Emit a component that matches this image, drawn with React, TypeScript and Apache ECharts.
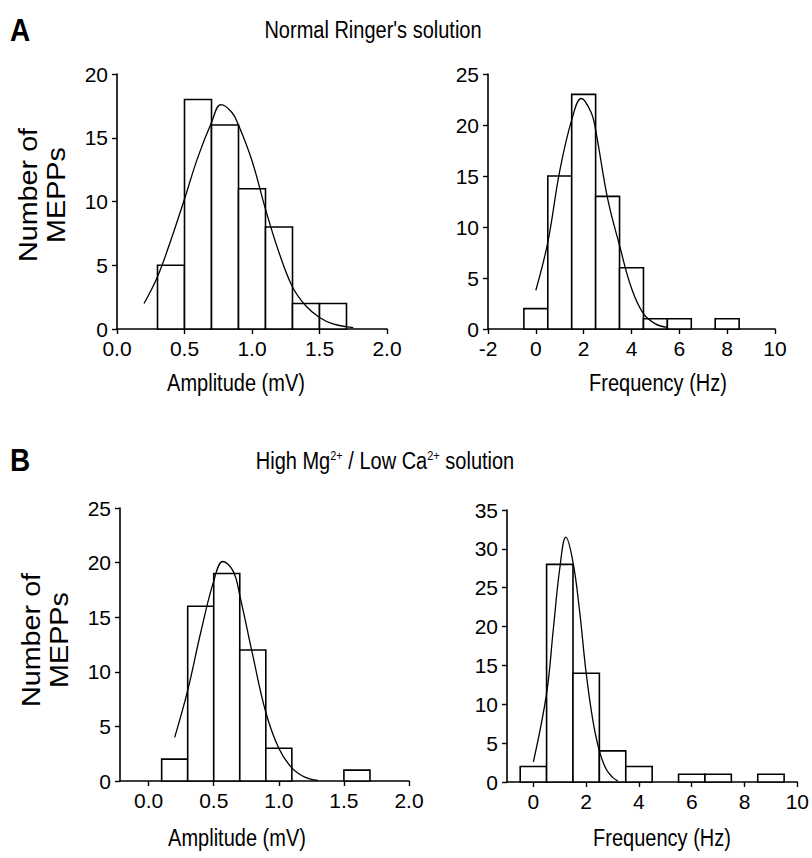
import React, { useEffect, useRef } from "react";
import * as echarts from "echarts";

// ---- Data ----
// Panel A, amplitude histogram (Normal Ringer's)
const ampLoA = [0.3, 0.5, 0.7, 0.9, 1.1, 1.3, 1.5];
const ampHiA = [0.5, 0.7, 0.9, 1.1, 1.3, 1.5, 1.7];
const ampCountA = [5, 18, 16, 11, 8, 2, 2];
const ampFitXA = [0.2, 0.3, 0.4, 0.5, 0.6, 0.7, 0.77, 0.85, 0.9, 1.0, 1.1, 1.2, 1.3, 1.4, 1.5, 1.6, 1.75];
const ampFitYA = [2.0, 4.1, 7.0, 10.2, 13.5, 16.2, 17.6, 17.0, 16.0, 13.2, 9.4, 6.0, 3.3, 1.8, 0.9, 0.4, 0.1];

// Panel A, frequency histogram
const freqLoA = [-0.5, 0.5, 1.5, 2.5, 3.5, 4.5, 5.5, 7.5];
const freqHiA = [0.5, 1.5, 2.5, 3.5, 4.5, 5.5, 6.5, 8.5];
const freqCountA = [2, 15, 23, 13, 6, 1, 1, 1];
const freqFitXA = [0, 0.5, 1.0, 1.5, 1.9, 2.3, 2.5, 3.0, 3.5, 4.0, 4.5, 5.0, 5.5];
const freqFitYA = [3.8, 8.5, 15.5, 20.5, 22.6, 21.3, 19.5, 12.8, 8.2, 4.0, 1.5, 0.5, 0.15];

// Panel B, amplitude histogram (High Mg2+ / Low Ca2+)
const ampLoB = [0.1, 0.3, 0.5, 0.7, 0.9, 1.5];
const ampHiB = [0.3, 0.5, 0.7, 0.9, 1.1, 1.7];
const ampCountB = [2, 16, 19, 12, 3, 1];
const ampFitXB = [0.2, 0.3, 0.4, 0.5, 0.57, 0.65, 0.7, 0.8, 0.9, 1.0, 1.1, 1.2, 1.3];
const ampFitYB = [4.0, 8.3, 13.6, 18.3, 20.1, 19.2, 17.0, 11.5, 6.3, 3.0, 1.2, 0.35, 0.05];

// Panel B, frequency histogram
const freqLoB = [-0.5, 0.5, 1.5, 2.5, 3.5, 5.5, 6.5, 8.5];
const freqHiB = [0.5, 1.5, 2.5, 3.5, 4.5, 6.5, 7.5, 9.5];
const freqCountB = [2, 28, 14, 4, 2, 1, 1, 1];
const freqFitXB = [0, 0.5, 0.75, 1.0, 1.23, 1.5, 1.75, 2.0, 2.25, 2.5, 2.75, 3.0, 3.2];
const freqFitYB = [2.6, 11.4, 19.5, 27.5, 31.5, 28.3, 22.0, 14.0, 8.0, 4.0, 1.7, 0.6, 0.15];

// tick labels
const ampTicks = [0, 0.5, 1.0, 1.5, 2.0];
const freqTicksB = [0, 2, 4, 6, 8, 10];

const FONT = "Liberation Sans, Arial, sans-serif";

function bins(lo: number[], hi: number[], c: number[]) {
  return lo.map((l, i) => [l, hi[i], c[i]]);
}
function pairs(xs: number[], ys: number[]) {
  return xs.map((x, i) => [x, ys[i]]);
}

const histRender = (params: any, api: any) => {
  const x0 = api.value(0);
  const x1 = api.value(1);
  const c = api.value(2);
  const p0 = api.coord([x0, c]);
  const p1 = api.coord([x1, 0]);
  return {
    type: "rect",
    shape: { x: p0[0], y: p0[1], width: p1[0] - p0[0], height: p1[1] - p0[1] },
    style: { fill: "#fff", stroke: "#000", lineWidth: 1.6 },
  };
};

const axisCommon = {
  axisLine: { show: true, onZero: false, lineStyle: { color: "#000", width: 1.6 } },
  axisTick: { show: true, inside: false, length: 5, lineStyle: { color: "#000", width: 1.4 } },
  axisLabel: { color: "#000", fontSize: 21, fontFamily: FONT, margin: 7 },
  splitLine: { show: false },
};

export default function App() {
  const ref = useRef<HTMLDivElement>(null);
  useEffect(() => {
    if (!ref.current) return;
    const chart = echarts.init(ref.current, undefined, { renderer: "svg" });
    const grids = [
      { left: 117, top: 74, width: 270, height: 255 },
      { left: 488, top: 74, width: 287, height: 255 },
      { left: 120, top: 508, width: 289, height: 273 },
      { left: 507, top: 510, width: 291, height: 272 },
    ];
    const xLabel = { ...axisCommon.axisLabel, margin: 9 };
    const yLabel = { ...axisCommon.axisLabel, margin: 9 };
    const xAxes: any[] = [
      {
        ...axisCommon, type: "value", gridIndex: 0, min: 0, max: 2, interval: 0.5,
        axisLabel: { ...xLabel, formatter: (v: number) => v.toFixed(1) },
      },
      { ...axisCommon, type: "value", gridIndex: 1, min: -2, max: 10, interval: 2, axisLabel: xLabel },
      {
        ...axisCommon, type: "value", gridIndex: 2, min: -0.22, max: 2,
        axisTick: { ...axisCommon.axisTick, customValues: ampTicks },
        axisLabel: { ...xLabel, customValues: ampTicks, formatter: (v: number) => v.toFixed(1) },
      },
      {
        ...axisCommon, type: "value", gridIndex: 3, min: -1, max: 10,
        axisTick: { ...axisCommon.axisTick, customValues: freqTicksB },
        axisLabel: { ...xLabel, customValues: freqTicksB },
      },
    ];
    const yAxes: any[] = [
      { ...axisCommon, type: "value", gridIndex: 0, min: 0, max: 20, interval: 5, axisLabel: yLabel },
      { ...axisCommon, type: "value", gridIndex: 1, min: 0, max: 25, interval: 5, axisLabel: yLabel },
      { ...axisCommon, type: "value", gridIndex: 2, min: 0, max: 25, interval: 5, axisLabel: yLabel },
      { ...axisCommon, type: "value", gridIndex: 3, min: 0, max: 35, interval: 5, axisLabel: yLabel },
    ];
    const histData = [
      bins(ampLoA, ampHiA, ampCountA),
      bins(freqLoA, freqHiA, freqCountA),
      bins(ampLoB, ampHiB, ampCountB),
      bins(freqLoB, freqHiB, freqCountB),
    ];
    const fitData = [
      pairs(ampFitXA, ampFitYA),
      pairs(freqFitXA, freqFitYA),
      pairs(ampFitXB, ampFitYB),
      pairs(freqFitXB, freqFitYB),
    ];
    const series: any[] = [];
    histData.forEach((d, i) => {
      series.push({
        type: "custom", xAxisIndex: i, yAxisIndex: i, renderItem: histRender,
        encode: { x: [0, 1], y: 2 }, data: d, z: 2, clip: false,
      });
      series.push({
        type: "line", xAxisIndex: i, yAxisIndex: i, data: fitData[i], smooth: 0.4,
        symbol: "none", lineStyle: { color: "#000", width: 1.3 }, z: 3,
      });
    });

    const txt = (x: number, y: number, text: string, size: number, extra: any = {}, sy = 1.15) => ({
      type: "text", x, y, scaleY: sy,
      style: { text, fontSize: size, fontFamily: FONT, fill: "#000", align: "center", verticalAlign: "middle", ...extra },
    });

    chart.setOption({
      animation: false,
      backgroundColor: "#fff",
      grid: grids,
      xAxis: xAxes,
      yAxis: yAxes,
      series,
      graphic: [
        txt(20, 30, "A", 28, { fontWeight: "bold" }),
        txt(373, 30, "Normal Ringer's solution", 20),
        txt(20, 460, "B", 28, { fontWeight: "bold" }),
        {
          type: "text", x: 385, y: 461, scaleY: 1.15,
          style: {
            text: "{n|High Mg}{s|2+}{n| / Low Ca}{s|2+}{n| solution}",
            align: "center", verticalAlign: "middle",
            rich: {
              n: { fontSize: 20, fontFamily: FONT, fill: "#000" },
              s: { fontSize: 11, fontFamily: FONT, fill: "#000", verticalAlign: "top" },
            },
          },
        },
        txt(236, 383, "Amplitude (mV)", 20),
        txt(658, 383, "Frequency (Hz)", 20),
        txt(237, 838, "Amplitude (mV)", 20),
        txt(662, 838, "Frequency (Hz)", 20),
        {
          type: "text", x: 43, y: 195, rotation: Math.PI / 2, scaleX: 1.15,
          style: { text: "Number of\nMEPPs", fontSize: 25, lineHeight: 28, fontFamily: FONT, fill: "#000", align: "center", verticalAlign: "middle" },
        },
        {
          type: "text", x: 46, y: 640, rotation: Math.PI / 2, scaleX: 1.15,
          style: { text: "Number of\nMEPPs", fontSize: 25, lineHeight: 28, fontFamily: FONT, fill: "#000", align: "center", verticalAlign: "middle" },
        },
      ],
    });
    return () => chart.dispose();
  }, []);
  return (
    <div
      ref={ref}
      style={{ position: "fixed", left: 0, top: 0, width: 812, height: 858, background: "#fff" }}
    />
  );
}
